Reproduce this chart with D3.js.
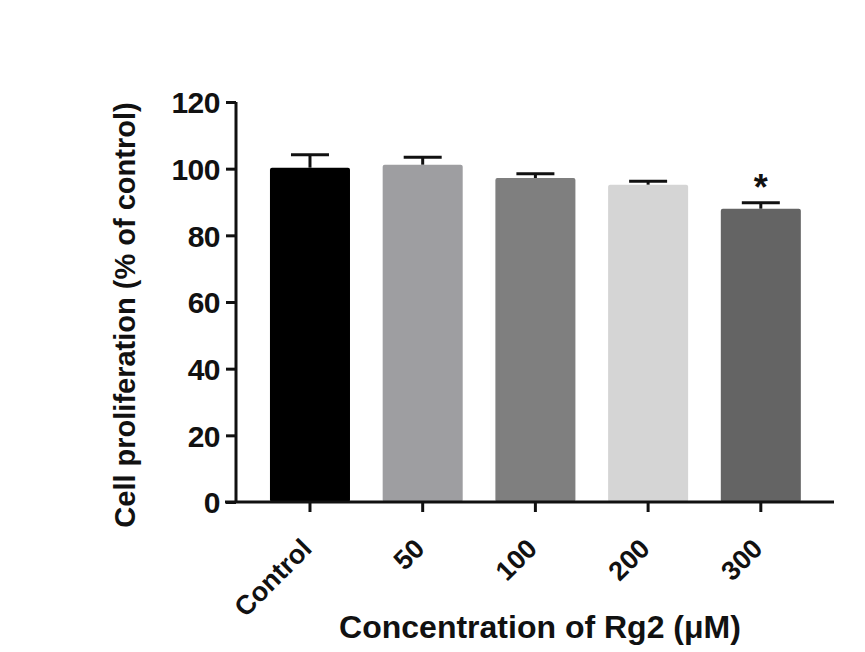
<!DOCTYPE html>
<html>
<head>
<meta charset="utf-8">
<script src="https://cdn.jsdelivr.net/npm/d3@7"></script>
<style>
  body { margin: 0; background: #fff; }
  text { font-family: "Liberation Sans", Arial, Helvetica, sans-serif; font-weight: bold; fill: #111; }
</style>
</head>
<body>
<div id="chart"></div>
<script>
// Data
const groups = ['Control', '50', '100', '200', '300'];
const means = [100.3, 101.2, 97.2, 95.2, 88.0];
const errors = [3.9, 2.2, 1.3, 1.0, 1.8];
const colors = ['#000000', '#9e9ea1', '#7f7f7f', '#d5d5d5', '#646464'];
const stars = ['', '', '', '', '*'];
const yTicks = [0, 20, 40, 60, 80, 100, 120];

const width = 865, height = 652;
const svg = d3.select('#chart').append('svg')
    .attr('width', width)
    .attr('height', height);

// Plot area
const plotLeft = 236, plotRight = 834, plotTop = 102, plotBottom = 502;

const y = d3.scaleLinear().domain([0, 120]).range([plotBottom, plotTop]);
const x = d3.scaleBand()
    .domain(groups)
    .range([258.7, 812.1])
    .paddingInner(0.29)
    .paddingOuter(0.1);

// Bars
svg.selectAll('rect.bar')
    .data(groups)
    .enter()
    .append('rect')
    .attr('class', 'bar')
    .attr('x', d => x(d))
    .attr('width', x.bandwidth())
    .attr('y', (d, i) => y(means[i]))
    .attr('height', (d, i) => y(0) - y(means[i]))
    .attr('rx', 2)
    .attr('fill', (d, i) => colors[i]);

// Error bars (upper only)
const capHalf = 19;
const err = svg.append('g').attr('stroke', '#111').attr('stroke-width', 3);
groups.forEach((g, i) => {
    const cx = x(g) + x.bandwidth() / 2;
    err.append('line')
        .attr('x1', cx).attr('x2', cx)
        .attr('y1', y(means[i])).attr('y2', y(means[i] + errors[i]));
    err.append('line')
        .attr('x1', cx - capHalf).attr('x2', cx + capHalf)
        .attr('y1', y(means[i] + errors[i])).attr('y2', y(means[i] + errors[i]));
});

// Significance marks
svg.selectAll('text.star')
    .data(groups)
    .enter()
    .append('text')
    .attr('class', 'star')
    .attr('x', d => x(d) + x.bandwidth() / 2)
    .attr('y', (d, i) => y(means[i] + errors[i]) - 3)
    .attr('text-anchor', 'middle')
    .style('font-size', '36px')
    .text((d, i) => stars[i]);

// Y axis
const yAxis = svg.append('g')
    .attr('transform', `translate(${plotLeft},0)`)
    .call(d3.axisLeft(y).tickValues(yTicks).tickSize(10).tickPadding(6));
yAxis.select('.domain').attr('stroke', '#111').attr('stroke-width', 3)
    .attr('d', `M0,${plotTop}V${plotBottom}`);
yAxis.selectAll('.tick line').attr('stroke', '#111').attr('stroke-width', 3);
yAxis.selectAll('.tick text')
    .style('font-size', '30px')
    .style('letter-spacing', '-0.5px')
    .attr('dy', '0.36em');

// X axis
const xAxis = svg.append('g')
    .attr('transform', `translate(0,${plotBottom})`)
    .call(d3.axisBottom(x).tickSize(10).tickPadding(6));
xAxis.select('.domain').attr('stroke', '#111').attr('stroke-width', 3)
    .attr('d', `M${plotLeft - 11},0H${plotRight}`);
xAxis.selectAll('.tick line').attr('stroke', '#111').attr('stroke-width', 3);
xAxis.selectAll('.tick text')
    .style('font-size', '27px')
    .attr('text-anchor', 'end')
    .attr('dy', '0')
    .attr('transform', 'translate(-8,37) rotate(-45)');

// Axis titles
svg.append('text')
    .attr('transform', `translate(135,315) rotate(-90)`)
    .attr('text-anchor', 'middle')
    .style('font-size', '29px')
    .text('Cell proliferation (% of control)');

svg.append('text')
    .attr('x', 540)
    .attr('y', 638)
    .attr('text-anchor', 'middle')
    .style('font-size', '32px')
    .text('Concentration of Rg2 (μM)');
</script>
</body>
</html>
